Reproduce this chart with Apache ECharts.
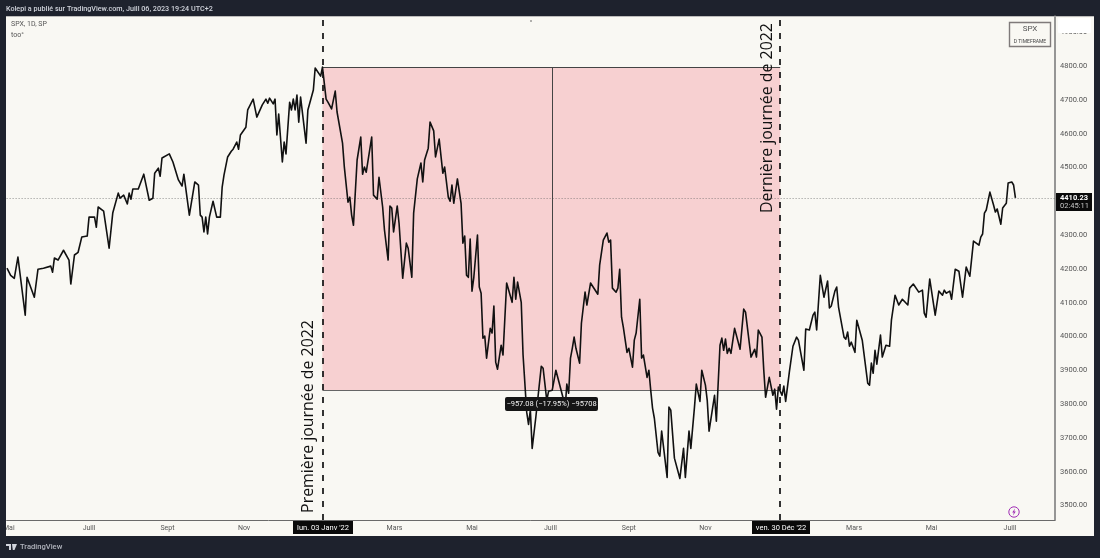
<!DOCTYPE html>
<html><head><meta charset="utf-8">
<style>html,body{margin:0;padding:0;background:#1e222d}#c{width:1100px;height:558px}</style>
<script src="https://cdn.jsdelivr.net/npm/echarts@6/dist/echarts.min.js"></script>
</head><body><div id="c"></div>
<script>
// Trading session number counted from 3 Jan 2022 = 0
const sessions = [-173,-171,-169,-167,-163,-162,-158,-156,-153,-149,-148,-147,-145,-142,-139,-138,-136,-134,-132,-129,-128,-125,-124,-123,-120,-117,-115,-112,-111,-109,-107,-106,-105,-104,-101,-98,-95,-93,-92,-90,-89,-88,-84,-82,-79,-78,-77,-76,-75,-73,-72,-70,-68,-67,-66,-65,-64,-63,-62,-60,-58,-56,-55,-54,-52,-50,-49,-47,-46,-45,-42,-41,-38,-37,-36,-35,-33,-32,-31,-30,-29,-27,-26,-25,-24,-22,-21,-20,-18,-17,-16,-15,-14,-13,-12,-9,-8,-5,-4,-3,-1,0,
2,3,5,7,8,9,11,12,14,15,16,17,19,21,22,23,24,27,28,30,31,32,33,34,36,37,38,39,41,42,44,46,47,49,50,52,53,54,55,56,58,59,61,62,64,66,67,69,70,71,72,73,74,75,76,77,78,79,80,81,82,83,85,86,87,88,89,90,91,92,93,94,95,96,97,98,99,101,104,105,106,107,109,110,112,113,114,115,116,117,118,120,121,123,124,126,128,129,132,133,134,135,136,137,138,139,140,141,142,144,145,147,151,152,153,154,156,157,158,159,161,162,163,164,165,167,168,170,171,172,174,175,176,178,179,180,181,182,184,185,186,189,190,191,193,196,197,198,199,201,202,204,205,207,208,210,211,212,215,216,218,219,220,221,222,223,224,226,227,229,230,231,232,235,236,237,238,239,241,242,243,244,245,247,248,249,250,
252,253,254,256,257,258,260,261,264,265,267,269,270,271,273,275,277,278,279,281,282,283,284,286,287,288,289,290,292,293,294,296,297,299,300,301,302,303,304,306,307,309,311,312,314,315,316,318,319,321,322,323,324,325,327,329,330,331,333,334,336,338,339,340,341,342,344,345,347,349,351,353,355,357,358,360,361,362,363,364,366,368,369,370,372,373,374,375,376,378,379,380];
const closes = [4202,4181,4172,4235,4063,4175,4116,4199,4202,4208,4190,4232,4226,4255,4226,4155,4241,4249,4294,4297,4353,4353,4323,4383,4371,4261,4365,4424,4409,4418,4392,4424,4406,4436,4436,4480,4403,4409,4483,4498,4474,4528,4540,4516,4463,4468,4445,4480,4477,4359,4356,4457,4448,4359,4353,4309,4353,4303,4353,4400,4353,4353,4442,4477,4531,4548,4554,4575,4554,4596,4619,4670,4702,4702,4649,4649,4685,4690,4702,4690,4705,4688,4702,4596,4658,4516,4575,4540,4693,4670,4702,4670,4714,4634,4708,4572,4670,4729,4794,4794,4770,4797,
4702,4693,4673,4726,4664,4664,4572,4501,4397,4412,4359,4329,4522,4590,4480,4501,4486,4590,4418,4406,4471,4474,4383,4315,4226,4386,4380,4309,4386,4335,4172,4276,4261,4175,4365,4466,4466,4513,4457,4522,4557,4634,4608,4531,4584,4483,4501,4412,4400,4448,4394,4394,4466,4463,4394,4276,4297,4181,4175,4288,4134,4175,4300,4146,4128,3995,4001,3936,3933,4024,4010,4090,3924,3903,3900,3974,3945,4158,4101,4175,4110,4161,4101,3945,3776,3740,3782,3669,3669,3761,3764,3912,3906,3811,3838,3841,3900,3900,3817,3782,3859,3832,3936,3965,3998,3965,3965,3921,4039,4131,4093,4158,4125,4211,4211,4285,4306,4279,4285,4143,4131,4143,4199,4057,4027,3953,3965,3909,3989,4010,4110,3936,3945,3879,3900,3841,3788,3758,3657,3646,3720,3583,3791,3782,3640,3580,3577,3669,3583,3720,3669,3791,3859,3808,3900,3856,3811,3720,3826,3749,3974,3995,3959,3992,3950,3965,3950,4024,4027,3962,3959,4081,4072,3939,3936,3962,3939,4019,3998,3900,3820,3820,3879,3826,3844,3785,3850,
3826,3853,3808,3894,3894,3971,3998,3989,3900,4022,4019,4063,4072,4019,4181,4116,4164,4084,4090,4134,4146,4087,4084,3998,3992,4013,3971,3983,3953,4048,4048,3989,3992,3862,3856,3921,3891,3959,3918,4004,3939,3974,3971,4048,4122,4125,4093,4110,4110,4093,4143,4143,4155,4155,4131,4137,4069,4057,4170,4170,4063,4134,4137,4122,4137,4128,4134,4110,4199,4193,4116,4205,4178,4282,4279,4270,4294,4303,4365,4374,4427,4389,4368,4377,4332,4380,4380,4394,4454,4457,4448,4410];
const priceTicks = [3500,3600,3700,3800,3900,4000,4100,4200,4300,4500,4600,4700,4800,4900];
const monthTicks = [-172,-128,-85,-43,39.5,82,125,168,210,291.5,334,377];
const monthLabels = ['Mai','Juill','Sept','Nov','Mars','Mai','Juill','Sept','Nov','Mars','Mai','Juill'];
const yearStart = 0, yearEnd = 251, measureAt = 126;
const yearHigh = 4796.56, yearLow = 3839.48, lastClose = 4410.23;
const xMin = -173.2, xMax = 401.7, yMin = 3457, yMax = 4948;
const lineData = sessions.map((s, i) => [s, closes[i]]);
const F = 'Roboto, sans-serif';
const lineOf = (x1, y1, x2, y2, style) => [{coord:[x1,y1], lineStyle:style}, {coord:[x2,y2]}];
const dash = {color:'#111', width:1.7, type:[6,7]};
const chart = echarts.init(document.getElementById('c'), null, {renderer:'canvas'});
const box = (x,y,w,h,fill,r) => ({type:'rect', z:100, shape:{x,y,width:w,height:h,r:r||0}, style:{fill}, silent:true});
const txt = (x,y,text,size,fill,extra) => ({type:'text', z:101, x, y, silent:true, style:Object.assign({text, fontSize:size, fill, fontFamily:F, textVerticalAlign:'middle'}, extra||{})});
chart.setOption({
  animation:false,
  backgroundColor:'#1e222d',
  grid:{left:6, width:1049, top:16, height:504, containLabel:false},
  xAxis:{type:'value', min:xMin, max:xMax, splitLine:{show:false}, axisTick:{show:false},
    axisLine:{show:true, onZero:false, lineStyle:{color:'#6a6a6a', width:1}},
    axisLabel:{customValues:monthTicks, showMinLabel:true, showMaxLabel:true, hideOverlap:false, color:'#555', fontSize:7, fontFamily:F, margin:5,
      formatter:v => monthLabels[monthTicks.indexOf(v)] || ''}},
  yAxis:{type:'value', position:'right', min:yMin, max:yMax, splitLine:{show:false}, axisTick:{show:false},
    axisLine:{show:true, onZero:false, lineStyle:{color:'#7d7d7d', width:1.6}},
    axisLabel:{customValues:priceTicks, color:'#555', fontSize:7.5, fontFamily:F, margin:5, formatter:v => v.toFixed(2)}},
  series:[{
    type:'line', data:lineData, showSymbol:false, symbol:'none', smooth:false, z:5, clip:true, silent:true,
    lineStyle:{color:'#111', width:1.6, join:'round'},
    markArea:{silent:true, itemStyle:{color:'#f7d0d1'}, z:1, data:[[{coord:[yearStart,yearHigh]},{coord:[yearEnd,yearLow]}]]},
    markLine:{silent:true, symbol:'none', label:{show:false}, z:2, animation:false, data:[
      lineOf(xMin,lastClose,xMax,lastClose,{color:'#666',width:0.7,type:[1,2]}),
      lineOf(yearStart,yearHigh,yearEnd,yearHigh,{color:'#444',width:1,type:'solid'}),
      lineOf(yearStart,yearLow,yearEnd,yearLow,{color:'#666',width:1.2,type:'solid'}),
      lineOf(measureAt,yearHigh,measureAt,yearLow,{color:'#444',width:1,type:'solid'}),
      lineOf(yearStart,yMin,yearStart,yMax,dash),
      lineOf(yearEnd,yMin,yearEnd,yMax,dash)
    ]}
  }],
  graphic:{elements:[
    {type:'rect', z:-1, shape:{x:6,y:16,width:1088,height:520}, style:{fill:'#f9f8f3'}, silent:true},
    box(6,16,1088,0.8,'#a8a8a8'),
    box(0,520,6,17,'#1e222d'),
    box(1058,18,33,15,'#ffffff',1),
    // price flag
    box(1056,193,36,18,'#0a0a0a'),
    txt(1060,198,'4410.23',7.5,'#ffffff',{fontWeight:'bold'}),
    txt(1060,206,'02:45:11',7.5,'#c8c8c8'),
    // date flags
    box(293,521,60,13,'#0a0a0a'),
    txt(323,528,"lun. 03 Janv '22",7.5,'#ffffff',{textAlign:'center'}),
    box(752,521,58,13,'#0a0a0a'),
    txt(781,528,"ven. 30 Déc '22",7.5,'#ffffff',{textAlign:'center'}),
    // measure badge
    box(505,397,93,14,'#151515',2),
    txt(551.5,404,'−957.08 (−17.95%) −95708',7.5,'#f0f0f0',{textAlign:'center'}),
    // header / footer
    txt(6,9,'Kolepi a publié sur TradingView.com, Juill 06, 2023 19:24 UTC+2',7.2,'#d1d4dc',{fontWeight:500}),
    txt(11,24.5,'SPX, 1D, SP',7,'#555'),
    txt(11,35,'too°',7,'#555'),
    txt(20,547.5,'TradingView',7.6,'#b2b5be',{fontWeight:500}),
    {type:'polygon', z:101, silent:true, shape:{points:[[6,544],[11,544],[11,550],[9,550],[9,546],[6,546]]}, style:{fill:'#d1d4dc'}},
    {type:'polygon', z:101, silent:true, shape:{points:[[12,544],[17,544],[14.5,550],[12.8,550]]}, style:{fill:'#d1d4dc'}},
    // symbol box
    {type:'rect', z:100, silent:true, shape:{x:1009.5,y:22.5,width:41,height:24}, style:{fill:'#f9f8f3',stroke:'#7f7a7a',lineWidth:1.4}},
    txt(1030,29,'SPX',8,'#555',{textAlign:'center'}),
    txt(1030,41.5,'D TIMEFRAME',5,'#444',{textAlign:'center'}),
    // annotations
    {type:'text', z:101, silent:true, x:308.5, y:416.5, rotation:Math.PI/2, style:{text:'Première journée de 2022', fontSize:15.9, fontFamily:'"Open Sans", sans-serif', fill:'#111', textAlign:'center', textVerticalAlign:'middle'}},
    {type:'text', z:101, silent:true, x:767, y:118, rotation:Math.PI/2, style:{text:'Dernière journée de 2022', fontSize:15.9, fontFamily:'"Open Sans", sans-serif', fill:'#111', textAlign:'center', textVerticalAlign:'middle'}},
    // small marks
    {type:'circle', z:100, silent:true, shape:{cx:531,cy:21,r:0.7}, style:{fill:'#333'}},
    {type:'circle', z:100, silent:true, shape:{cx:1014,cy:512,r:5.2}, style:{fill:'#f9f8f3',stroke:'#a12fb5',lineWidth:1}},
    {type:'polygon', z:101, silent:true, shape:{points:[[1015,508.5],[1012.2,512.6],[1013.8,512.6],[1013,515.5],[1015.8,511.4],[1014.2,511.4]]}, style:{fill:'#a12fb5'}}
  ]}
});
</script></body></html>
